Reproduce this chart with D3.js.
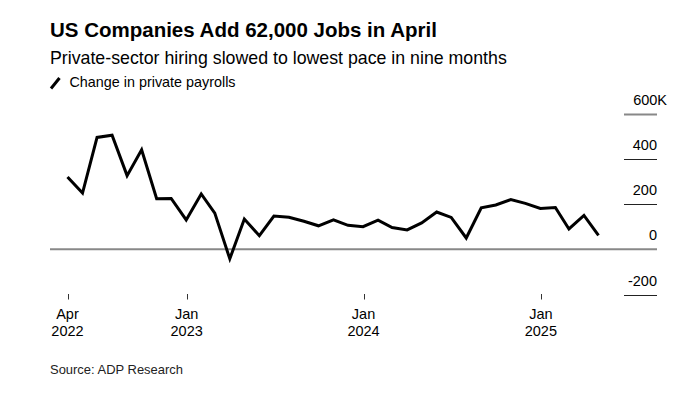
<!DOCTYPE html>
<html>
<head>
<meta charset="utf-8">
<script src="https://cdn.jsdelivr.net/npm/d3@7"></script>
<style>
  html, body { margin: 0; padding: 0; background: #fff; }
  svg { display: block; font-family: "Liberation Sans", Arial, Helvetica, sans-serif; }
</style>
</head>
<body>
<svg id="chart" width="696" height="398"></svg>
<script>
// ---- Data ----
const months = [
  "2022-04","2022-05","2022-06","2022-07","2022-08","2022-09","2022-10","2022-11","2022-12",
  "2023-01","2023-02","2023-03","2023-04","2023-05","2023-06","2023-07","2023-08","2023-09","2023-10","2023-11","2023-12",
  "2024-01","2024-02","2024-03","2024-04","2024-05","2024-06","2024-07","2024-08","2024-09","2024-10","2024-11","2024-12",
  "2025-01","2025-02","2025-03","2025-04"
];
const payrollChange = [
  320, 249, 495, 505, 326, 440, 224, 225, 130,
  245, 160, -42, 134, 60, 147, 142, 124, 104, 130, 106, 100,
  129, 96, 86, 117, 165, 141, 50, 184, 196, 220, 203, 181,
  185, 90, 150, 62
];
const yTicks = [-200, 0, 200, 400, 600];
const yTickLabels = ["-200", "0", "200", "400", "600K"];
const xTickDates = ["2022-04-30", "2023-01-01", "2024-01-01", "2025-01-01"];
const xTickLabels = [["Apr","2022"],["Jan","2023"],["Jan","2024"],["Jan","2025"]];
const titleText = "US Companies Add 62,000 Jobs in April";
const subtitleText = "Private-sector hiring slowed to lowest pace in nine months";
const legendText = "Change in private payrolls";
const sourceText = "Source: ADP Research";

// ---- Helpers ----
const parseMonth = d3.timeParse("%Y-%m");
const endOfMonth = s => d3.timeDay.offset(d3.timeMonth.offset(parseMonth(s), 1), -1);
const data = months.map((m, i) => ({ date: endOfMonth(m), value: payrollChange[i] }));

const svg = d3.select("#chart");

function fitText(sel, targetWidth) {
  const node = sel.node();
  const w = node.getComputedTextLength();
  const fs = parseFloat(sel.attr("font-size"));
  sel.attr("font-size", (fs * targetWidth / w).toFixed(2));
}

// ---- Header ----
const title = svg.append("text").attr("x", 50).attr("y", 37.3)
  .attr("font-size", 19).attr("font-weight", "bold").attr("fill", "#000").text(titleText);
fitText(title, 387);

const sub = svg.append("text").attr("x", 50).attr("y", 64)
  .attr("font-size", 16).attr("fill", "#000").text(subtitleText);
fitText(sub, 457);

svg.append("line").attr("x1", 51).attr("y1", 88.5).attr("x2", 59.5).attr("y2", 78)
  .attr("stroke", "#000").attr("stroke-width", 3);
const leg = svg.append("text").attr("x", 69.5).attr("y", 87.3)
  .attr("font-size", 14).attr("fill", "#000").text(legendText);
fitText(leg, 166);

// ---- Scales ----
const x = d3.scaleTime()
  .domain([data[0].date, data[data.length - 1].date])
  .range([67.5, 598.5]);
const y = d3.scaleLinear().domain([-200, 600]).range([294.5, 113.7]);

// ---- Y axis (right) ----
const yAxis = svg.append("g");
yAxis.selectAll("line.tick").data(yTicks.filter(d => d !== 0)).join("line")
  .attr("class", "tick")
  .attr("x1", 624).attr("x2", 657)
  .attr("y1", d => Math.round(y(d)) + 0.5).attr("y2", d => Math.round(y(d)) + 0.5)
  .attr("stroke", d => d === 600 ? "#888" : "#222")
  .attr("stroke-width", d => d === 600 ? 2 : 1);
yAxis.selectAll("text").data(yTicks).join("text")
  .attr("x", d => d === 600 ? 667 : 657)
  .attr("y", d => y(d) - 9)
  .attr("text-anchor", "end")
  .attr("font-size", 14.5)
  .attr("fill", "#000")
  .text((d, i) => yTickLabels[i]);

// zero line
svg.append("line")
  .attr("x1", 50).attr("x2", 657)
  .attr("y1", y(0)).attr("y2", y(0))
  .attr("stroke", "#888").attr("stroke-width", 2);

// ---- X axis ----
const xg = svg.append("g");
const tickDates = xTickDates.map(d3.timeParse("%Y-%m-%d"));
tickDates.forEach((d, i) => {
  const px = Math.round(x(d)) + 0.5;
  xg.append("line").attr("x1", px).attr("x2", px).attr("y1", 294).attr("y2", 299.5)
    .attr("stroke", "#333").attr("stroke-width", 1);
  xg.append("text").attr("x", x(d)).attr("y", 319.3).attr("text-anchor", "middle")
    .attr("font-size", 14.5).attr("fill", "#000").text(xTickLabels[i][0]);
  xg.append("text").attr("x", x(d)).attr("y", 336).attr("text-anchor", "middle")
    .attr("font-size", 14.5).attr("fill", "#000").text(xTickLabels[i][1]);
});

// ---- Line ----
const line = d3.line().x(d => x(d.date)).y(d => y(d.value));
svg.append("path").datum(data)
  .attr("d", line)
  .attr("fill", "none")
  .attr("stroke", "#000")
  .attr("stroke-width", 3)
  .attr("stroke-linejoin", "miter");

// ---- Source ----
const src = svg.append("text").attr("x", 50).attr("y", 374)
  .attr("font-size", 13.5).attr("fill", "#222").text(sourceText);
fitText(src, 133);
</script>
</body>
</html>
